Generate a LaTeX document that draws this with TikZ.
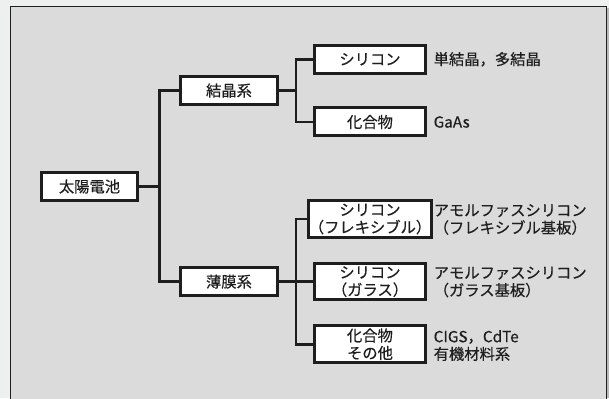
\documentclass[tikz,border=0pt]{standalone}
\usepackage{fontspec}
\newfontfamily\jp[FakeBold=0.4]{Noto Sans CJK JP}
\definecolor{outerbg}{HTML}{EEF0EF}
\definecolor{panelbg}{HTML}{DBDBDB}
\definecolor{ink}{HTML}{1E1E1E}
\begin{document}
\begin{tikzpicture}[x=1pt,y=-1pt,
  every node/.style={font=\jp\fontsize{15.3}{17.5}\selectfont, text=ink},
  box/.style={draw=ink, line width=3pt, fill=white, inner sep=0pt, align=center,
              minimum height=28pt},
  rootbox/.style={box, minimum width=96pt},
  midbox/.style={box, minimum width=97pt},
  leafbox/.style={box, minimum width=111pt},
  tallbox/.style={leafbox, minimum height=36.5pt},
  note/.style={anchor=west, inner sep=0pt, align=left},
  conn/.style={draw=ink, line width=2.6pt}
]
\useasboundingbox (0,0) rectangle (609,398);
\fill[outerbg] (0,0) rectangle (609,398);
\fill[gray!55] (607,8) rectangle (609,398);
\draw[draw=ink, line width=1.6pt, fill=panelbg] (10.5,400) -- (10.5,6.5) -- (606.5,6.5) -- (606.5,400);

\node[rootbox] (root) at (89.5,186.5) {太陽電池};
\node[midbox] (kessho) at (229,90.5) {結晶系};
\node[midbox] (haku) at (229,281.6) {薄膜系};
\node[leafbox] (si1) at (370,59.3) {シリコン};
\node[leafbox] (ka1) at (370,122) {化合物};
\node[tallbox] (si2) at (370,219) {シリコン\\（フレキシブル）};
\node[tallbox] (si3) at (370,281.6) {シリコン\\（ガラス）};
\node[tallbox] (ka2) at (370,344.2) {化合物\\その他};

\node[note] (n1) at (433.5,59.3) {単結晶，多結晶};
\node[note] (n2) at (433.5,122) {GaAs};
\node[note] (n3) at (433.5,219.5) {アモルファスシリコン\\（フレキシブル基板）};
\node[note] (n4) at (433.5,282) {アモルファスシリコン\\（ガラス基板）};
\node[note] (n5) at (433.5,345.5) {CIGS，CdTe\\有機材料系};

\coordinate (j1) at (159.5,186.5);
\coordinate (j2) at (296,90.5);
\coordinate (j3) at (296,281.6);

\draw[conn] (kessho.west) -| (j1) |- (haku.west);
\draw[conn] (root.east) -- (j1);
\draw[conn] (si1.west) -| (j2) |- (ka1.west);
\draw[conn] (kessho.east) -- (j2);
\draw[conn] (si2.west) -| (j3) |- (ka2.west);
\draw[conn] (haku.east) -- (si3.west);
\end{tikzpicture}
\end{document}
